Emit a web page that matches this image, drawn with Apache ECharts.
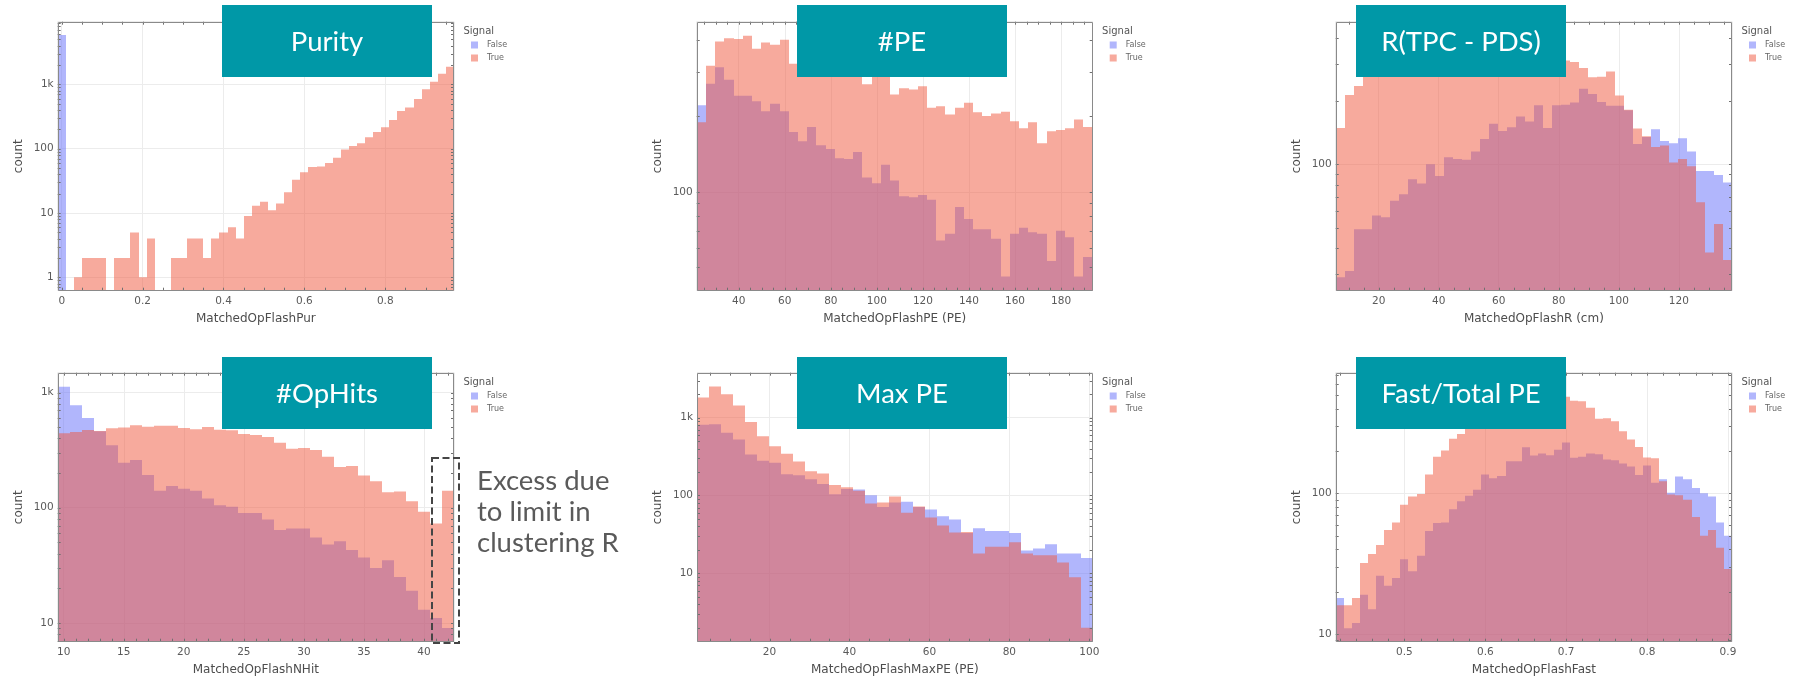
<!DOCTYPE html>
<html><head><meta charset="utf-8">
<script src="https://cdn.jsdelivr.net/npm/echarts@6/dist/echarts.min.js"></script>
<style>html,body{margin:0;padding:0;background:#fff}#c{width:1799px;height:680px}</style>
</head><body><div id="c"></div>
<script>
// ---------- DATA ----------
// Purity: 49 bins, width 0.02 starting at -0.01
const purityBinStart = -0.01, purityBinWidth = 0.02;
const purityFalse = [5850,0,0,0,0,0,0,0,0,0, 0,0,0,0,0,0,0,0,0,0, 0,0,0,0,0,0,0,0,0,0, 0,0,0,0,0,0,0,0,0,0, 0,0,0,0,0,0,0,0,0];
const purityTrue = [0,0,1,2,2,2,0,2,2,5, 1,4,0,0,2,2,4,4,2,4, 5,6,4,9,13,15,11,14,21,33, 43,52,53,60,72,97,110,122,150,181, 215,279,385,438,591,836,1100,1466,1883];

// #PE: 43 bins, width 4
const peBinStart = 21.75, peBinWidth = 4;
const peFalse = [221,269,313,279,241,241,229,209,224,209, 173,159,181,153,148,136,135,144,114,108, 128,111,96,95,97,93,64,68,87,78, 71,71,65,46,68,72,69,68,53,70, 66,46,55];
const peTrue = [189,317,396,408,405,418,371,393,385,403, 323,330,345,310,300,310,290,300,268,300, 305,244,258,255,263,216,219,203,216,226, 207,200,205,208,191,179,189,156,174,176, 179,194,181];

// R(TPC - PDS): 44 bins, width 3
const rBinStart = 5.7, rBinWidth = 3;
const rFalse = [29,31,49,49,57,56,67,72,85,81, 100,88,108,106,105,115,132,156,144,150, 169,160,191,149,191,192,197,229,216,198, 190,190,181,125,135,147,129,126,133,115, 93,93,89,82];
const rTrue = [149,214,236,275,290,300,305,315,320,330, 335,335,340,345,345,340,340,335,335,330, 330,325,325,320,318,312,307,288,260,261, 277,213,182,148,136,121,123,102,106,98, 66,38,52,35];

// #OpHits: 33 integer bins 10..42
const nhitBinStart = 9.5, nhitBinWidth = 1;
const nhitFalse = [1124,774,600,460,348,246,259,192,140,154, 146,140,120,105,102,90,90,79,64,66, 66,55,48,51,43,37,30,35,25,19, 13,11,9];
const nhitTrue = [442,454,472,463,489,498,519,505,515,515, 492,479,502,474,470,436,428,411,367,325, 330,317,277,225,230,190,170,136,138,114, 92,73,140];

// Max PE: 33 bins, width 3
const maxpeBinStart = 1.85, maxpeBinWidth = 3;
const maxpeFalse = [809,825,638,524,336,279,263,188,182,162, 140,104,121,119,101,71,81,83,71,66, 54,49,33,38,35,35,33,19.6,20.8,23.7, 18,18,15.7];
const maxpeTrue = [1816,2511,2004,1432,883,578,430,343,273,205, 192,136,128,115,79,81,97,60,72,52, 41,33.5,34,18,22,22,25,18,17,17, 13.8,8.9,2];

// Fast/Total PE: 49 bins, width 0.01
const fastBinStart = 0.415, fastBinWidth = 0.01;
const fastFalse = [18,11,12,19,15,26,22,25,34,28, 36,54,61.5,62,77,88,96,106,136,128, 133,169,169,213,186,192,187,204,230,179, 182,192,190,174,172,163,155,135,158,119, 126,101,132,126,109,100,95,62,50];
const fastTrue = [16,16,18,32,37,43,55,62,83,95, 99,136,182,202,245,264,290,320,350,380, 410,440,460,480,500,510,520,500,486,455, 451,406,339,342,325,276,242,214,180,178, 122,98,97,90,68,50,55,41,29];

const panelTitles = ['Purity', '#PE', 'R(TPC - PDS)', '#OpHits', 'Max PE', 'Fast/Total PE'];
const xNames = ['MatchedOpFlashPur', 'MatchedOpFlashPE (PE)', 'MatchedOpFlashR (cm)', 'MatchedOpFlashNHit', 'MatchedOpFlashMaxPE (PE)', 'MatchedOpFlashFast'];
const legendNames = ['False', 'True'];
const annotationLines = ['Excess due', 'to limit in', 'clustering R'];

// ---------- LAYOUT / STYLE ----------
const COLORS = {False: 'rgba(99,110,250,0.5)', True: 'rgba(239,85,59,0.5)'};
const FONT = 'DejaVu Sans';
const panels = [
  {grid:{left:57.7, top:21.7, width:396.3, height:269}, xr:[-0.01,0.97], yr:[0.62,9420], split:5, major:0.2, minor:0.05, bins:[purityBinStart,purityBinWidth], f:purityFalse, t:purityTrue},
  {grid:{left:696.7, top:21.7, width:396, height:269}, xr:[21.75,193.75], yr:[40.4,475], split:8, major:20, minor:5, bins:[peBinStart,peBinWidth], f:peFalse, t:peTrue},
  {grid:{left:1335.7, top:21.7, width:396.3, height:269}, xr:[5.7,137.7], yr:[25,478], split:6, major:20, minor:5, bins:[rBinStart,rBinWidth], f:rFalse, t:rTrue},
  {grid:{left:57.7, top:372.7, width:396.3, height:269}, xr:[9.5,42.5], yr:[6.86,1486], split:6, major:5, minor:1, bins:[nhitBinStart,nhitBinWidth], f:nhitFalse, t:nhitTrue},
  {grid:{left:697, top:372.7, width:395.7, height:269}, xr:[1.85,100.85], yr:[1.32,3787], split:5, major:20, minor:5, bins:[maxpeBinStart,maxpeBinWidth], f:maxpeFalse, t:maxpeTrue},
  {grid:{left:1335.7, top:372.7, width:396.3, height:269}, xr:[0.415,0.905], yr:[8.82,721], split:5, major:0.1, minor:0.02, bins:[fastBinStart,fastBinWidth], f:fastFalse, t:fastTrue}
];
const boxPos = [[222,5],[797,5],[1356,5],[222,357],[797,357],[1356,357]];

const logFmt = v => { const l = Math.log10(v); if (Math.abs(l - Math.round(l)) > 1e-6) return ''; const r = Math.round(l); return r >= 3 ? (Math.pow(10, r - 3) + 'k') : String(Math.pow(10, r)); };
const linFmt = step => v => { const q = v / step; if (Math.abs(q - Math.round(q)) > 1e-6) return ''; return String(+(Math.round(q) * step).toFixed(6)); };

function histSeries(name, gi, start, width, counts, yMin) {
  const color = COLORS[name];
  return {
    type: 'custom', name, xAxisIndex: gi, yAxisIndex: gi, clip: true, z: 2,
    itemStyle: {color},
    encode: {x: [0, 1], y: 2},
    data: counts.map((c, i) => [start + i * width, start + (i + 1) * width, c]),
    renderItem(params, api) {
      const c = api.value(2);
      if (!(c > 0)) return null;
      const p0 = api.coord([api.value(0), c]);
      const p1 = api.coord([api.value(1), c]);
      const pb = api.coord([api.value(0), yMin]);
      const xa = Math.round(p0[0]), xb = Math.round(p1[0]);
      return {type: 'rect', shape: {x: xa, y: p0[1], width: xb - xa, height: pb[1] - p0[1]}, style: {fill: color}};
    }
  };
}

function decoSeries(gi, p) {
  const xr = p.xr, yr = p.yr, L = 3;
  const st = {stroke: '#707070', lineWidth: 1};
  const xt = [], yt = [];
  for (let k = Math.ceil(xr[0] / p.minor - 1e-9); k * p.minor <= xr[1] + 1e-9; k++) xt.push([k * p.minor, yr[0]]);
  for (let n = Math.floor(Math.log10(yr[0])); n <= Math.ceil(Math.log10(yr[1])); n++)
    for (let m = 1; m <= 9; m++) { const v = m * Math.pow(10, n); if (v >= yr[0] && v <= yr[1]) yt.push([xr[0], v]); }
  return [
    {type: 'custom', xAxisIndex: gi, yAxisIndex: gi, silent: true, z: 10, clip: false, data: xt,
      renderItem(params, api) {
        const b = api.coord([api.value(0), yr[0]]), t = api.coord([api.value(0), yr[1]]);
        const x = Math.round(b[0]) + 0.5;
        return {type: 'group', children: [
          {type: 'line', shape: {x1: x, y1: b[1], x2: x, y2: b[1] - L}, style: st},
          {type: 'line', shape: {x1: x, y1: t[1], x2: x, y2: t[1] + L}, style: st}]};
      }},
    {type: 'custom', xAxisIndex: gi, yAxisIndex: gi, silent: true, z: 10, clip: false, data: yt,
      renderItem(params, api) {
        const l = api.coord([xr[0], api.value(1)]), r = api.coord([xr[1], api.value(1)]);
        const y = Math.round(l[1]) + 0.5;
        return {type: 'group', children: [
          {type: 'line', shape: {x1: l[0], y1: y, x2: l[0] + L, y2: y}, style: st},
          {type: 'line', shape: {x1: r[0], y1: y, x2: r[0] - L, y2: y}, style: st}]};
      }},
    {type: 'custom', xAxisIndex: gi, yAxisIndex: gi, silent: true, z: 11, clip: false, data: [[xr[0], yr[0]]],
      renderItem(params, api) {
        const a = api.coord([xr[0], yr[1]]), b = api.coord([xr[1], yr[0]]);
        const x0 = Math.round(a[0]) + 0.5, y0 = Math.round(a[1]) + 0.5, x1 = Math.round(b[0]) - 0.5, y1 = Math.round(b[1]) - 0.5;
        return {type: 'rect', shape: {x: x0, y: y0, width: x1 - x0, height: y1 - y0}, style: {fill: 'none', stroke: '#8a8a8a', lineWidth: 1}};
      }}
  ];
}

const grid = [], xAxis = [], yAxis = [], series = [], legend = [], title = [], graphic = [];
panels.forEach((p, i) => {
  grid.push(Object.assign({show: false, containLabel: false}, p.grid));
  xAxis.push({gridIndex: i, type: 'value', min: p.xr[0], max: p.xr[1], splitNumber: p.split,
    name: xNames[i], nameLocation: 'middle', nameGap: 22,
    nameTextStyle: {fontFamily: FONT, fontSize: 12, color: '#4d4d4d'},
    axisLine: {show: false}, axisTick: {show: false},
    axisLabel: {fontFamily: FONT, fontSize: 10.5, color: '#5a5a5a', margin: 5, formatter: linFmt(p.major)},
    splitLine: {show: true, lineStyle: {color: '#ececec', width: 1}}});
  yAxis.push({gridIndex: i, type: 'log', logBase: 10, min: p.yr[0], max: p.yr[1],
    name: 'count', nameLocation: 'middle', nameGap: 33,
    nameTextStyle: {fontFamily: FONT, fontSize: 12, color: '#4d4d4d'},
    axisLine: {show: false}, axisTick: {show: false},
    axisLabel: {fontFamily: FONT, fontSize: 10.5, color: '#5a5a5a', margin: 4, formatter: logFmt},
    splitLine: {show: true, lineStyle: {color: '#ececec', width: 1}}});
  series.push(histSeries('False', i, p.bins[0], p.bins[1], p.f, p.yr[0]));
  series.push(histSeries('True', i, p.bins[0], p.bins[1], p.t, p.yr[0]));
  decoSeries(i, p).forEach(s => series.push(s));
  const right = p.grid.left + p.grid.width;
  legend.push({data: legendNames, orient: 'vertical', left: right + 17, top: p.grid.top + 18.8,
    itemWidth: 7, itemHeight: 7, itemGap: 4, icon: 'rect', selectedMode: false, padding: 0,
    textStyle: {fontFamily: FONT, fontSize: 8, color: '#666', lineHeight: 9, padding: [0, 0, 0, 4]}});
  title.push({text: 'Signal', left: right + 9.4, top: p.grid.top + 4.8, padding: 0,
    textStyle: {fontFamily: FONT, fontSize: 10, fontWeight: 'normal', color: '#555'}});
  graphic.push({type: 'group', left: boxPos[i][0], top: boxPos[i][1], z: 100, children: [
    {type: 'rect', z: 100, shape: {x: 0, y: 0, width: 210, height: 72}, style: {fill: '#0098a7'}},
    {type: 'text', z: 101, style: {text: panelTitles[i], x: 105, y: 37, align: 'center', verticalAlign: 'middle', textAlign: 'center', textVerticalAlign: 'middle', fill: '#ffffff', fontFamily: 'Lato', fontSize: 27.5}}
  ]});
});
// dashed annotation box and text on the #OpHits panel
graphic.push({type: 'rect', z: 100, shape: {x: 432, y: 458, width: 27, height: 185}, style: {fill: 'none', stroke: '#454545', lineWidth: 2, lineDash: [7, 3.5]}});
annotationLines.forEach((t, k) => graphic.push({type: 'text', z: 100, style: {text: t, x: 477, y: 481 + k * 31, verticalAlign: 'middle', textVerticalAlign: 'middle', fill: '#5a5a5a', fontFamily: 'Lato', fontSize: 27.5}}));

const chart = echarts.init(document.getElementById('c'), null, {renderer: 'canvas'});
chart.setOption({animation: false, backgroundColor: '#ffffff', grid, xAxis, yAxis, series, legend, title, graphic});
</script></body></html>
